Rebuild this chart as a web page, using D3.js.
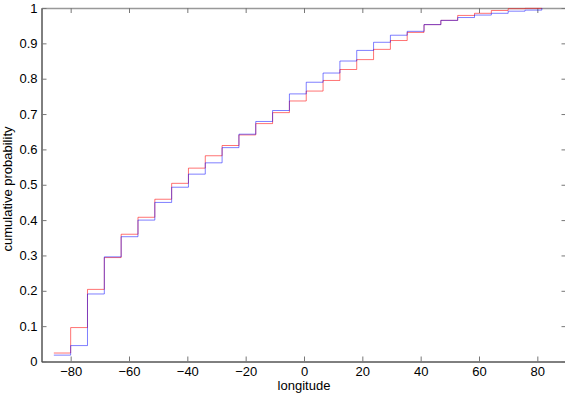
<!DOCTYPE html>
<html><head><meta charset="utf-8">
<script src="https://cdn.jsdelivr.net/npm/d3@7"></script>
<style>body{margin:0;background:#fff;} svg{display:block;}</style>
</head><body>
<svg id="c" width="565" height="394"></svg>
<script>
const edges = [-85.77, -80, -74.23, -68.46, -62.69, -56.92, -51.15, -45.38, -39.62, -33.85, -28.08, -22.31, -16.54, -10.77, -5, 0.77, 6.54, 12.31, 18.08, 23.85, 29.62, 35.38, 41.15, 46.92, 52.69, 58.46, 64.23, 70, 75.77, 81.54];
const redValues = [0.024, 0.096, 0.204, 0.294, 0.360, 0.408, 0.459, 0.504, 0.547, 0.582, 0.611, 0.641, 0.673, 0.704, 0.737, 0.765, 0.795, 0.826, 0.854, 0.883, 0.908, 0.931, 0.953, 0.965, 0.979, 0.985, 0.993, 0.998, 0.999, 1];
const blueValues = [0.018, 0.045, 0.191, 0.296, 0.353, 0.400, 0.450, 0.493, 0.530, 0.562, 0.605, 0.643, 0.679, 0.710, 0.757, 0.790, 0.816, 0.850, 0.880, 0.903, 0.923, 0.934, 0.953, 0.965, 0.973, 0.980, 0.985, 0.991, 0.994, 1];
const xTicks = [-80, -60, -40, -20, 0, 20, 40, 60, 80];
const yTicks = [0, 0.1, 0.2, 0.3, 0.4, 0.5, 0.6, 0.7, 0.8, 0.9, 1];
const xLabel = "longitude";
const yLabel = "cumulative probability";

const svg = d3.select("#c");
const L = 41.5, R = 566.5, T = 8, B = 361.5;
const x = d3.scaleLinear().domain([-90, 90]).range([L, R]);
const y = d3.scaleLinear().domain([0, 1]).range([B, T]);
const font = "'Liberation Sans', Arial, sans-serif";
const fs = 13;

const gB = svg.append("g").attr("transform", `translate(0,${B})`)
  .call(d3.axisBottom(x).tickValues(xTicks).tickSizeInner(-5).tickSizeOuter(0).tickPadding(5.5).tickFormat(d => d === 0 ? "0" : String(d).replace("-", "\u2212")));
const gT = svg.append("g").attr("transform", `translate(0,${T})`)
  .call(d3.axisTop(x).tickValues(xTicks).tickSizeInner(-5).tickSizeOuter(0).tickFormat(""));
const gL = svg.append("g").attr("transform", `translate(${L},0)`)
  .call(d3.axisLeft(y).tickValues(yTicks).tickSizeInner(-5).tickSizeOuter(0).tickPadding(4).tickFormat(d => d === 0 ? "0" : d === 1 ? "1" : d3.format(".1f")(d)));
const gR = svg.append("g").attr("transform", `translate(${R},0)`)
  .call(d3.axisRight(y).tickValues(yTicks).tickSizeInner(-5).tickSizeOuter(0).tickFormat(""));

[gB, gT, gL, gR].forEach(g => {
  g.selectAll("text").attr("font-family", font).attr("font-size", fs).attr("fill", "#000");
  g.selectAll(".tick line").attr("stroke", "#777");
});
gB.select(".domain").attr("stroke", "#000");
gL.select(".domain").attr("stroke", "#000");
gT.select(".domain").attr("stroke", "#999").attr("stroke-width", 1.5);
gR.select(".domain").attr("stroke", "#999");
gB.selectAll("text").attr("dy", "0.71em");

const line = d3.line().x(d => x(d[0])).y(d => y(d[1])).curve(d3.curveStepAfter);
const redPts = edges.map((e, i) => [e, redValues[i]]);
const bluePts = edges.map((e, i) => [e, blueValues[i]]);

svg.append("path").datum(redPts).attr("d", line).attr("fill", "none")
  .attr("stroke", "#ff0000").attr("stroke-opacity", 0.55).attr("stroke-width", 1);
svg.append("path").datum(bluePts).attr("d", line).attr("fill", "none")
  .attr("stroke", "#0000ff").attr("stroke-opacity", 0.5).attr("stroke-width", 1);

svg.append("text").attr("x", x(0)).attr("y", 390)
  .attr("text-anchor", "middle").attr("font-family", font).attr("font-size", fs).text(xLabel);
svg.append("text").attr("transform", `translate(12,189) rotate(-90)`)
  .attr("text-anchor", "middle").attr("font-family", font).attr("font-size", fs).text(yLabel);
</script>
</body></html>
